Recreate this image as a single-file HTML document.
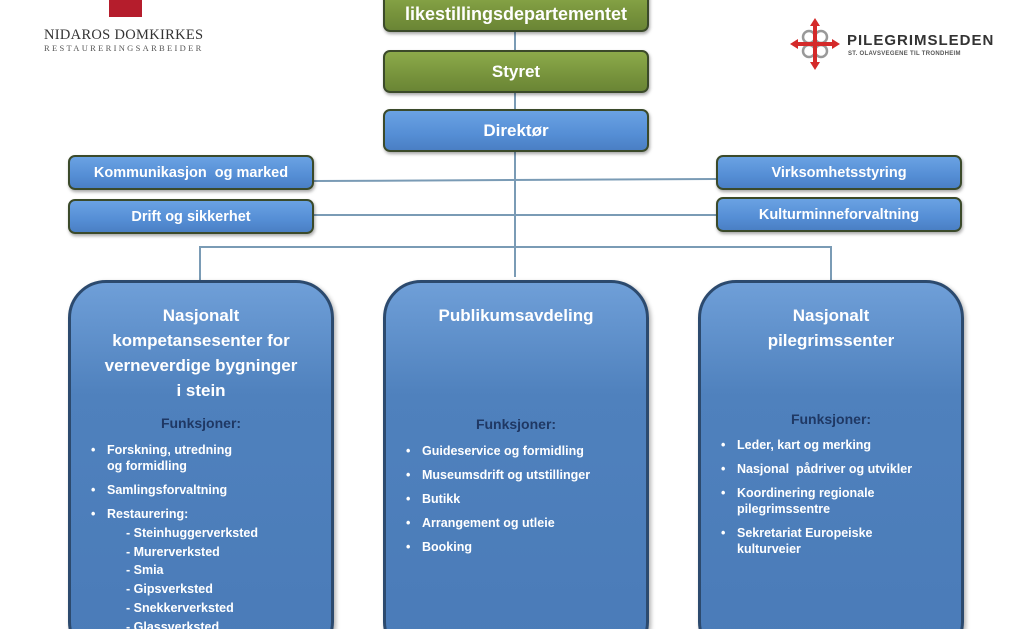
<!DOCTYPE html>
<html><head><meta charset="utf-8"><style>
*{margin:0;padding:0;box-sizing:border-box}
html,body{width:1029px;height:629px;overflow:hidden}
body{background:#fff;font-family:"Liberation Sans",sans-serif;position:relative}
.b{position:absolute;display:flex;align-items:center;justify-content:center;color:#fff;font-weight:bold;border:2px solid #3b4a2a;border-radius:7px;box-shadow:1px 2px 3px rgba(0,0,0,.35)}
.g{background:linear-gradient(#8cab4a,#77933c 60%,#6a8535)}
.bl{background:linear-gradient(#6aa2e3,#558ed5 60%,#4a7fc4)}
.s{position:absolute;background:linear-gradient(#6f9fd8,#4f81bd 30%,#4a7bb8);border:3px solid #2c4a6e;border-radius:38px;color:#fff;font-weight:bold;box-shadow:2px 2px 4px rgba(0,0,0,.3)}
.t{text-align:center;font-size:17px;line-height:25px;margin-top:20px}
.h{color:#1f3864;text-align:center;font-size:14px}
ul{list-style:none;font-size:12.5px;line-height:16px}
li{position:relative;padding-left:36px;margin-bottom:8px}
li:before{content:"•";position:absolute;left:20px}
.sub{padding-left:55px;font-size:12.5px;line-height:18.7px}
.l{position:absolute;background:#7a9bb5}
</style></head><body>
<div style="position:absolute;left:109px;top:0;width:33px;height:17px;background:#b51d2c"></div>
<div style="position:absolute;left:44px;top:27px;font-family:'Liberation Serif',serif;color:#333;font-size:14.5px;letter-spacing:.3px">NIDAROS DOMKIRKES</div>
<div style="position:absolute;left:44px;top:43px;font-family:'Liberation Serif',serif;color:#555;font-size:8.5px;letter-spacing:2.3px">RESTAURERINGSARBEIDER</div>
<svg style="position:absolute;left:790px;top:18px" width="50" height="52" viewBox="0 0 50 52">
<circle cx="19" cy="19" r="6" fill="none" stroke="#999" stroke-width="2.5"/><circle cx="31" cy="19" r="6" fill="none" stroke="#999" stroke-width="2.5"/><circle cx="19" cy="33" r="6" fill="none" stroke="#999" stroke-width="2.5"/><circle cx="31" cy="33" r="6" fill="none" stroke="#999" stroke-width="2.5"/>
<rect x="23" y="3" width="4" height="46" fill="#d42a2a"/><rect x="3" y="24" width="44" height="4" fill="#d42a2a"/>
<polygon points="25,0 30,8 20,8" fill="#d42a2a"/><polygon points="25,52 30,44 20,44" fill="#d42a2a"/><polygon points="0,26 8,21 8,31" fill="#d42a2a"/><polygon points="50,26 42,21 42,31" fill="#d42a2a"/>
</svg>
<div style="position:absolute;left:847px;top:32px;font-size:15px;font-weight:bold;color:#333;letter-spacing:1px">PILEGRIMSLEDEN</div>
<div style="position:absolute;left:848px;top:51px;font-size:6px;font-weight:bold;color:#555;letter-spacing:.3px">ST. OLAVSVEGENE TIL TRONDHEIM</div>

<div class="l" style="left:514px;top:30px;width:1.5px;height:247px"></div>
<div class="l" style="left:313px;top:179px;width:403px;height:1.5px;transform:rotate(-0.3deg)"></div>
<div class="l" style="left:313px;top:214px;width:403px;height:1.5px"></div>
<div class="l" style="left:199px;top:246px;width:632px;height:1.5px"></div>
<div class="l" style="left:199px;top:246px;width:1.5px;height:34px"></div>
<div class="l" style="left:830px;top:246px;width:1.5px;height:34px"></div>

<div class="b g" style="left:383px;top:-12px;width:266px;height:44px;font-size:18px;padding-top:8px">likestillingsdepartementet</div>
<div class="b g" style="left:383px;top:50px;width:266px;height:43px;font-size:17px">Styret</div>
<div class="b bl" style="left:383px;top:109px;width:266px;height:43px;font-size:17px">Direktør</div>
<div class="b bl" style="left:68px;top:155px;width:246px;height:35px;font-size:14.5px">Kommunikasjon&nbsp; og marked</div>
<div class="b bl" style="left:68px;top:199px;width:246px;height:35px;font-size:14.5px">Drift og sikkerhet</div>
<div class="b bl" style="left:716px;top:155px;width:246px;height:35px;font-size:14.5px">Virksomhetsstyring</div>
<div class="b bl" style="left:716px;top:197px;width:246px;height:35px;font-size:14.5px">Kulturminneforvaltning</div>

<div class="s" style="left:68px;top:280px;width:266px;height:380px">
<div class="t">Nasjonalt<br>kompetansesenter for<br>verneverdige bygninger<br>i stein</div>
<div class="h" style="margin-top:12px;margin-bottom:11px">Funksjoner:</div>
<ul><li>Forskning, utredning<br>og formidling</li><li>Samlingsforvaltning</li><li style="margin-bottom:2px">Restaurering:</li></ul>
<div class="sub">- Steinhuggerverksted<br>- Murerverksted<br>- Smia<br>- Gipsverksted<br>- Snekkerverksted<br>- Glassverksted</div>
</div>
<div class="s" style="left:383px;top:280px;width:266px;height:380px">
<div class="t">Publikumsavdeling</div>
<div class="h" style="margin-top:88px;margin-bottom:11px">Funksjoner:</div>
<ul><li>Guideservice og formidling</li><li>Museumsdrift og utstillinger</li><li>Butikk</li><li>Arrangement og utleie</li><li>Booking</li></ul>
</div>
<div class="s" style="left:698px;top:280px;width:266px;height:380px">
<div class="t">Nasjonalt<br>pilegrimssenter</div>
<div class="h" style="margin-top:58px;margin-bottom:10px">Funksjoner:</div>
<ul><li>Leder, kart og merking</li><li>Nasjonal&nbsp; pådriver og utvikler</li><li>Koordinering regionale<br>pilegrimssentre</li><li>Sekretariat Europeiske<br>kulturveier</li></ul>
</div>
</body></html>
